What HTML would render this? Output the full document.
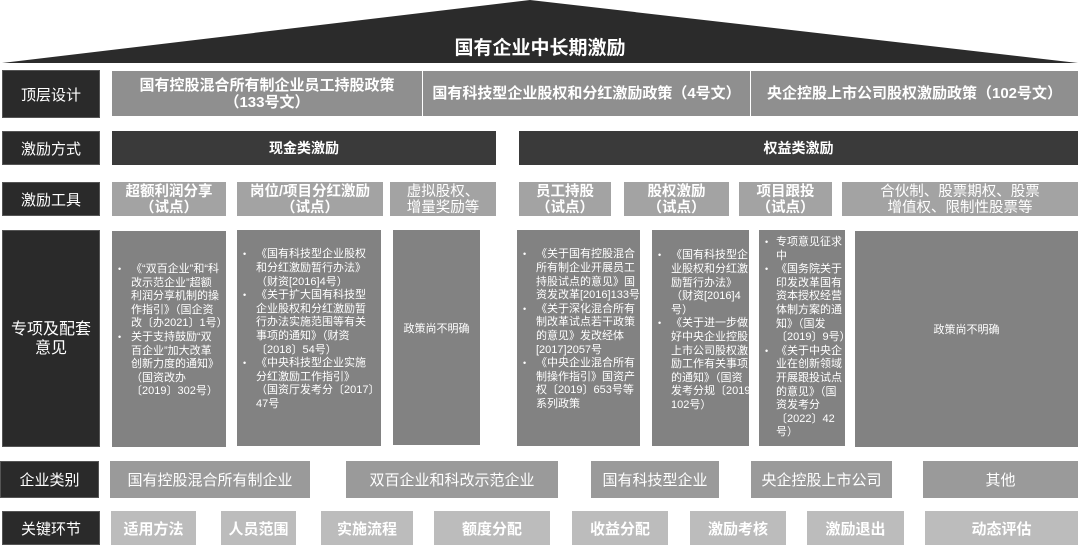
<!DOCTYPE html>
<html><head><meta charset="utf-8"><style>
*{margin:0;padding:0;box-sizing:border-box}
body{width:1080px;height:548px;background:#fff;position:relative;overflow:hidden;font-family:"Liberation Sans","Noto Sans CJK SC",sans-serif;color:#fff}
.b{position:absolute;display:flex;align-items:center;justify-content:center;text-align:center}
.l{background:#2a2a2a;font-size:15px;border:1px solid #555}
.p{background:#8f8f8f;font-weight:bold;font-size:15px;line-height:17px}
.d{background:#3a3a3a;font-weight:bold;font-size:14px}
.t{background:#a3a3a3;font-size:14.5px;line-height:16px;padding-top:1px}
.t.bd{font-weight:bold}
.s{background:#828282;font-size:11px;line-height:13.6px;text-align:left;justify-content:flex-start;white-space:nowrap;overflow:hidden}
.s ul{list-style:none;padding-left:0}
.s li{position:relative;padding-left:19px}
.s li:before{content:"•";position:absolute;left:6px;font-size:9px}
.c{background:#9a9a9a;font-size:15px}
.k{background:#bcbcbc;font-weight:bold;font-size:15px}
</style></head><body>
<svg style="position:absolute;left:0;top:0" width="1080" height="64"><polygon points="2,63 530,0 1078,63" fill="#2b2b2b"/></svg>
<div class="b" style="left:340px;top:31px;width:400px;height:30px;font-size:19px;font-weight:bold">国有企业中长期激励</div>

<div class="b l" style="left:2px;top:70px;width:98px;height:48px">顶层设计</div>
<div class="b p" style="left:112px;top:71px;width:310px;height:45px">国有控股混合所有制企业员工持股政策<br>（133号文）</div>
<div class="b p" style="left:423px;top:71px;width:327px;height:45px">国有科技型企业股权和分红激励政策（4号文）</div>
<div class="b p" style="left:751px;top:71px;width:327px;height:45px">央企控股上市公司股权激励政策（102号文）</div>

<div class="b l" style="left:2px;top:131px;width:98px;height:34px">激励方式</div>
<div class="b d" style="left:112px;top:131px;width:384px;height:34px">现金类激励</div>
<div class="b d" style="left:519px;top:131px;width:559px;height:34px">权益类激励</div>

<div class="b l" style="left:2px;top:182px;width:98px;height:34px">激励工具</div>
<div class="b t bd" style="left:112px;top:182px;width:114px;height:34px">超额利润分享<br>（试点）</div>
<div class="b t bd" style="left:237px;top:182px;width:146px;height:34px">岗位/项目分红激励<br>（试点）</div>
<div class="b t" style="left:390px;top:182px;width:106px;height:34px">虚拟股权、<br>增量奖励等</div>
<div class="b t bd" style="left:519px;top:182px;width:92px;height:34px">员工持股<br>（试点）</div>
<div class="b t bd" style="left:624px;top:182px;width:105px;height:34px">股权激励<br>（试点）</div>
<div class="b t bd" style="left:739px;top:182px;width:93px;height:34px">项目跟投<br>（试点）</div>
<div class="b t" style="left:842px;top:182px;width:236px;height:34px">合伙制、股票期权、股票<br>增值权、限制性股票等</div>

<div class="b l" style="left:2px;top:230px;width:98px;height:217px;font-size:16px;line-height:19px">专项及配套<br>意见</div>
<div class="b s" style="left:112px;top:231px;width:114px;height:216px;padding-bottom:16px"><ul><li>《“双百企业”和“科<br>改示范企业”超额<br>利润分享机制的操<br>作指引》（国企资<br>改〔办2021〕1号）</li><li>关于支持鼓励“双<br>百企业”加大改革<br>创新力度的通知》<br>（国资改办<br>〔2019〕302号）</li></ul></div>
<div class="b s" style="left:237px;top:230px;width:144px;height:216px;padding-bottom:16px"><ul><li>《国有科技型企业股权<br>和分红激励暂行办法》<br>（财资[2016]4号）</li><li>《关于扩大国有科技型<br>企业股权和分红激励暂<br>行办法实施范围等有关<br>事项的通知》（财资<br>〔2018〕54号）</li><li>《中央科技型企业实施<br>分红激励工作指引》<br>（国资厅发考分〔2017〕<br>47号</li></ul></div>
<div class="b s" style="left:393px;top:230px;width:87px;height:215px;justify-content:center;padding-bottom:16px">政策尚不明确</div>
<div class="b s" style="left:517px;top:230px;width:123px;height:216px;padding-bottom:16px"><ul><li>《关于国有控股混合<br>所有制企业开展员工<br>持股试点的意见》国<br>资发改革[2016]133号</li><li>《关于深化混合所有<br>制改革试点若干政策<br>的意见》发改经体<br>[2017]2057号</li><li>《中央企业混合所有<br>制操作指引》国资产<br>权〔2019〕653号等<br>系列政策</li></ul></div>
<div class="b s" style="left:652px;top:230px;width:97px;height:216px;padding-bottom:14px"><ul><li>《国有科技型企<br>业股权和分红激<br>励暂行办法》<br>（财资[2016]4<br>号）</li><li>《关于进一步做<br>好中央企业控股<br>上市公司股权激<br>励工作有关事项<br>的通知》（国资<br>发考分规〔2019〕<br>102号）</li></ul></div>
<div class="b s" style="left:759px;top:230px;width:86px;height:216px;align-items:flex-start;padding-top:6px"><ul><li style="padding-left:17px">专项意见征求<br>中</li><li style="padding-left:17px">《国务院关于<br>印发改革国有<br>资本授权经营<br>体制方案的通<br>知》（国发<br>〔2019〕9号）</li><li style="padding-left:17px">《关于中央企<br>业在创新领域<br>开展跟投试点<br>的意见》（国<br>资发考分<br>〔2022〕42<br>号）</li></ul></div>
<div class="b s" style="left:855px;top:231px;width:223px;height:216px;justify-content:center;padding-bottom:16px">政策尚不明确</div>

<div class="b l" style="left:0;top:461px;width:99px;height:37px">企业类别</div>
<div class="b c" style="left:110px;top:461px;width:200px;height:37px">国有控股混合所有制企业</div>
<div class="b c" style="left:346px;top:461px;width:212px;height:37px">双百企业和科改示范企业</div>
<div class="b c" style="left:591px;top:461px;width:128px;height:37px">国有科技型企业</div>
<div class="b c" style="left:751px;top:461px;width:141px;height:37px">央企控股上市公司</div>
<div class="b c" style="left:923px;top:461px;width:155px;height:37px">其他</div>

<div class="b l" style="left:2px;top:511px;width:98px;height:34px">关键环节</div>
<div class="b k" style="left:111px;top:511px;width:85px;height:34px">适用方法</div>
<div class="b k" style="left:221px;top:511px;width:75px;height:34px">人员范围</div>
<div class="b k" style="left:321px;top:511px;width:92px;height:34px">实施流程</div>
<div class="b k" style="left:434px;top:511px;width:116px;height:34px">额度分配</div>
<div class="b k" style="left:572px;top:511px;width:96px;height:34px">收益分配</div>
<div class="b k" style="left:690px;top:511px;width:96px;height:34px">激励考核</div>
<div class="b k" style="left:807px;top:511px;width:97px;height:34px">激励退出</div>
<div class="b k" style="left:925px;top:511px;width:153px;height:34px">动态评估</div>
</body></html>
